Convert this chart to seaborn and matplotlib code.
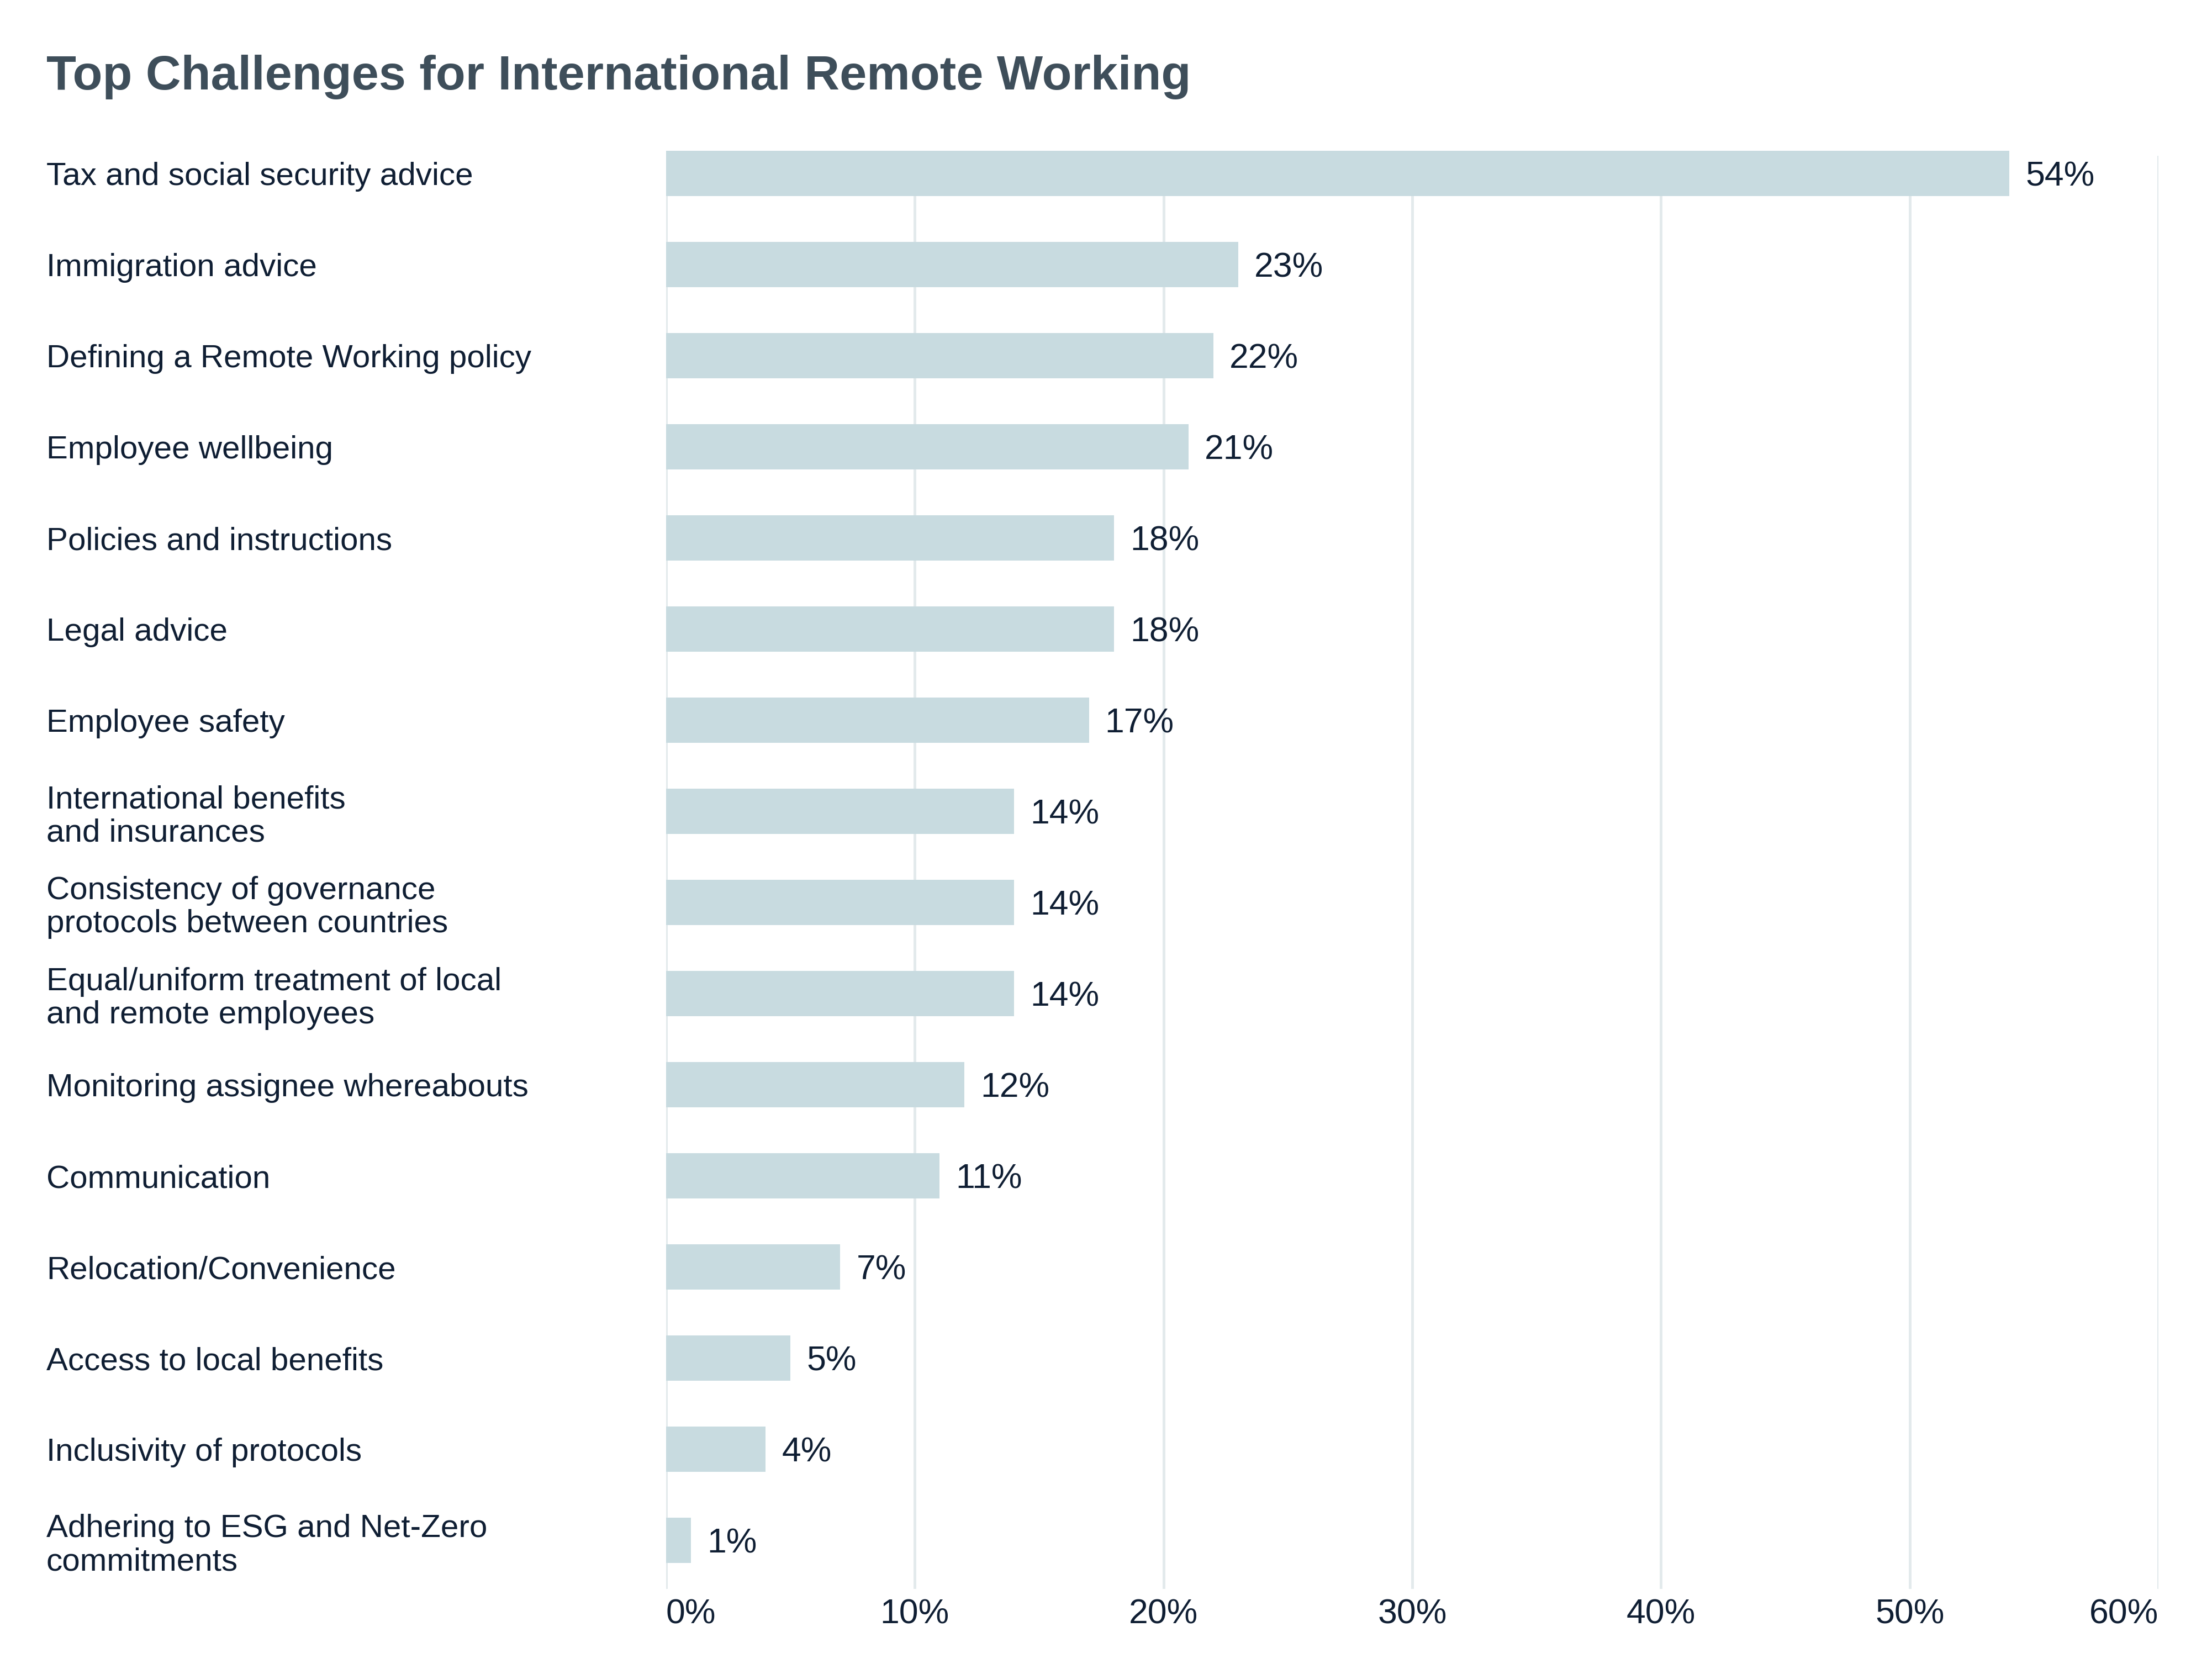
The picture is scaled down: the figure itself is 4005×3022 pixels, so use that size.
import matplotlib
matplotlib.use("Agg")
import matplotlib.pyplot as plt
import seaborn as sns
import pandas as pd

categories = [
    "Tax and social security advice",
    "Immigration advice",
    "Defining a Remote Working policy",
    "Employee wellbeing",
    "Policies and instructions",
    "Legal advice",
    "Employee safety",
    "International benefits\nand insurances",
    "Consistency of governance\nprotocols between countries",
    "Equal/uniform treatment of local\nand remote employees",
    "Monitoring assignee whereabouts",
    "Communication",
    "Relocation/Convenience",
    "Access to local benefits",
    "Inclusivity of protocols",
    "Adhering to ESG and Net-Zero\ncommitments",
]
values = [54, 23, 22, 21, 18, 18, 17, 14, 14, 14, 12, 11, 7, 5, 4, 1]
x_ticks = [0, 10, 20, 30, 40, 50, 60]
x_tick_labels = ["0%", "10%", "20%", "30%", "40%", "50%", "60%"]
title = "Top Challenges for International Remote Working"

df = pd.DataFrame({"category": categories, "value": values})

sns.set_theme(style="white")
plt.rcParams["font.family"] = ["Liberation Sans", "DejaVu Sans"]

W, H, DPI = 4005, 3022, 300
fig = plt.figure(figsize=(W / DPI, H / DPI), dpi=DPI)
ax = fig.add_axes([1206 / W, 1 - 2877 / H, (3908 - 1206) / W, (2877 - 282) / H])

bar_color = "#c8dbe0"
text_color = "#0f1e33"
sns.barplot(data=df, y="category", x="value", orient="h", color=bar_color,
            width=0.5, saturation=1, ax=ax, zorder=2)
for p in ax.patches:
    p.set_clip_on(False)
    p.set_linewidth(0)

ax.set_xlim(0, 60)
ax.set_ylim(15.533, -0.194)
ax.set_xticks(x_ticks)
ax.set_xticklabels(x_tick_labels)
ax.set_xlabel("")
ax.set_ylabel("")
for s in ax.spines.values():
    s.set_visible(False)
ax.grid(axis="x", color="#e3eaec", linewidth=1.2, zorder=0)
ax.grid(axis="y", visible=False)
ax.set_axisbelow(True)

ax.tick_params(axis="x", length=0, pad=4, labelsize=15, labelcolor=text_color)
ax.tick_params(axis="y", length=0, pad=(1206 - 84) / DPI * 72, labelsize=14,
               labelcolor=text_color)
for lbl in ax.get_yticklabels():
    lbl.set_ha("left")
    lbl.set_linespacing(1.15)
xl = ax.get_xticklabels()
xl[0].set_ha("left")
xl[-1].set_ha("right")

for i, v in enumerate(values):
    ax.annotate(f"{v}%", xy=(v, i), xytext=(7, -1.5), textcoords="offset points",
                va="center", ha="left", fontsize=15, color=text_color)

fig.text(84 / W, 1 - 162 / H, title, fontsize=21.2, fontweight="bold",
         color="#3e4e5a", ha="left", va="baseline")

fig.savefig("out.png", dpi=DPI, facecolor="white")
